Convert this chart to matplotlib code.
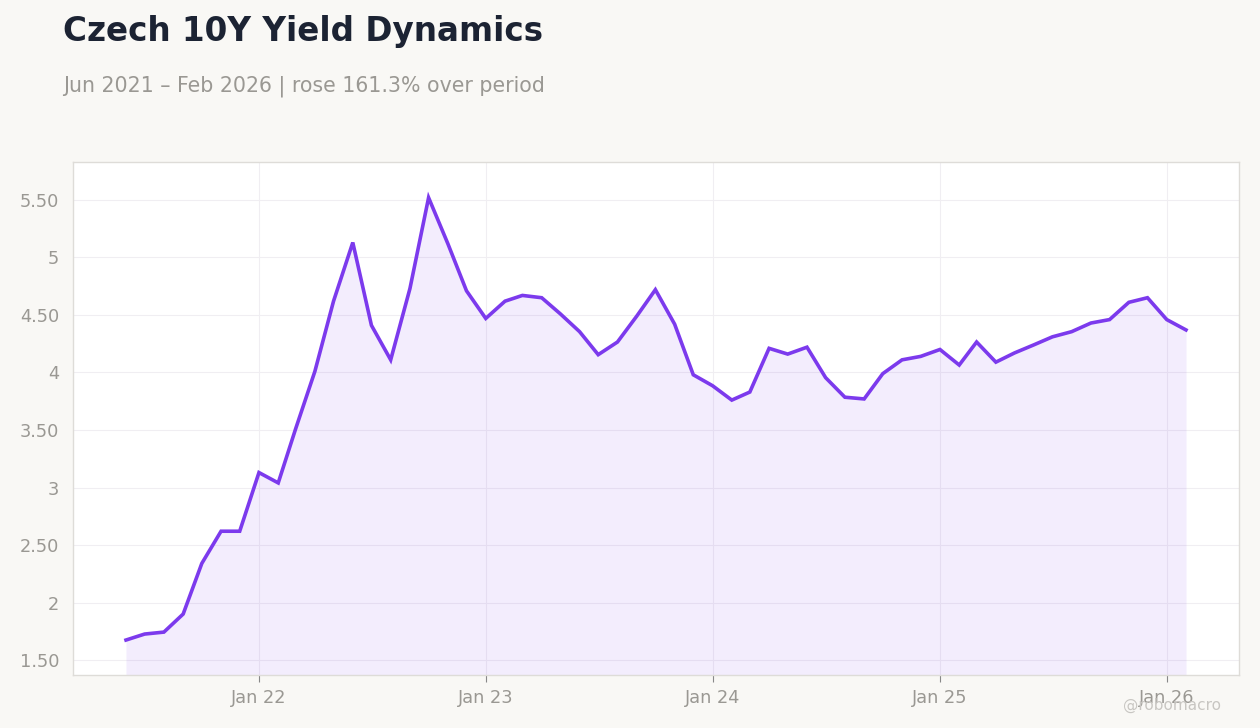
import numpy as np
import pandas as pd
import matplotlib
matplotlib.use("Agg")
import matplotlib.pyplot as plt
import matplotlib.dates as mdates
from matplotlib.ticker import FuncFormatter

plt.rcParams['font.family'] = ['DejaVu Sans']

"###################### Data ######################"
start_month = "2021-06-01"
end_month = "2026-02-01"

yield_2021 = [1.674, 1.726, 1.743, 1.90, 2.34, 2.62, 2.62]
yield_2022 = [3.13, 3.04, 3.51, 4.01, 4.62, 5.13, 4.41, 4.11, 4.73, 5.52, 5.12, 4.71]
yield_2023 = [4.47, 4.62, 4.67, 4.65, 4.51, 4.355, 4.155, 4.265, 4.49, 4.72, 4.42, 3.98]
yield_2024 = [3.885, 3.76, 3.83, 4.21, 4.16, 4.22, 3.955, 3.785, 3.77, 3.99, 4.11, 4.14]
yield_2025 = [4.20, 4.065, 4.265, 4.09, 4.17, 4.24, 4.31, 4.355, 4.43, 4.46, 4.61, 4.65]
yield_2026 = [4.46, 4.37]

yields = yield_2021 + yield_2022 + yield_2023 + yield_2024 + yield_2025 + yield_2026
dates = pd.date_range(start_month, end_month, freq="MS")

title = "Czech 10Y Yield Dynamics"
subtitle = "Jun 2021 \u2013 Feb 2026 | rose 161.3% over period"
watermark = "@robomacro"

##Plot customization
line_color = "#7c3aed"
bg_color = "#f9f8f5"
text_gray = "#9a9893"
y_bottom, y_top = 1.37, 5.83

"###################### Plot ######################"
fig = plt.figure(figsize=(12.6, 7.28), dpi=100)
fig.patch.set_facecolor(bg_color)
ax = fig.add_axes([73 / 1260, 1 - 675 / 728, (1239 - 73) / 1260, (675 - 162) / 728])
ax.set_facecolor("white")

ax.fill_between(dates, yields, y_bottom, color=line_color, alpha=0.09, lw=0)
ax.plot(dates, yields, color=line_color, lw=2.6, solid_joinstyle="miter")

ax.set_ylim(y_bottom, y_top)
ax.set_yticks([1.5, 2, 2.5, 3, 3.5, 4, 4.5, 5, 5.5])

def yfmt(v, pos):
    if abs(v - round(v)) < 1e-9:
        return "%d" % round(v)
    return "%.2f" % v

ax.yaxis.set_major_formatter(FuncFormatter(yfmt))
ax.xaxis.set_major_locator(mdates.YearLocator())
ax.xaxis.set_major_formatter(mdates.DateFormatter("Jan %y"))

ax.tick_params(axis="y", length=0, labelsize=12.8, labelcolor=text_gray, pad=10)
ax.tick_params(axis="x", length=5, color="#888888", labelsize=12.8, labelcolor=text_gray, pad=5)
ax.grid(color="#f0eef2", lw=0.8)
ax.set_axisbelow(True)
for s in ax.spines.values():
    s.set_color("#dedcd8")
    s.set_linewidth(1)

fig.text(63 / 1260, 1 - 31 / 728, title, fontsize=23.5, fontweight="bold", color="#1c2333", va="center", ha="left")
fig.text(63 / 1260, 1 - 86 / 728, subtitle, fontsize=14.8, color=text_gray, va="center", ha="left")
fig.text(1172 / 1260, 1 - 705 / 728, watermark, fontsize=11, color="#c8c6c2", va="center", ha="center")

fig.savefig("out.png", dpi=100, facecolor=bg_color)
